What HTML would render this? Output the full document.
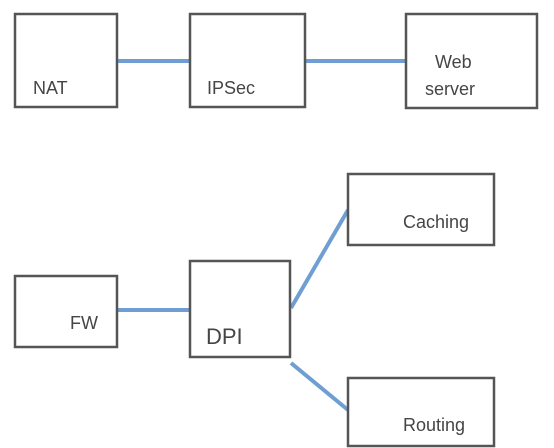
<!DOCTYPE html>
<html><head><meta charset="utf-8"><style>
html,body{margin:0;padding:0;background:#fff;}
svg{display:block}
text{font-family:"Liberation Sans",sans-serif;fill:#454545;font-size:18px;}
</style></head><body>
<svg width="554" height="448" viewBox="0 0 554 448">
<g stroke="#6f9fd2" stroke-width="4" fill="none">
<line x1="117" y1="61" x2="190" y2="61"/>
<line x1="305" y1="61" x2="406" y2="61"/>
<line x1="117" y1="310" x2="190" y2="310"/>
<line x1="291" y1="308" x2="348" y2="210"/>
<line x1="291" y1="363" x2="348" y2="410"/>
</g>
<g stroke="#555" stroke-width="2.5" fill="#fff">
<rect x="15" y="14" width="102" height="93"/>
<rect x="190" y="14" width="115" height="93"/>
<rect x="406" y="14" width="131" height="94"/>
<rect x="348" y="174" width="146" height="71"/>
<rect x="15" y="276" width="102" height="71"/>
<rect x="190" y="261" width="100" height="96"/>
<rect x="348" y="378" width="146" height="68"/>
</g>
<text x="33" y="94">NAT</text>
<text x="207" y="94">IPSec</text>
<text x="435" y="68">Web</text>
<text x="425" y="95">server</text>
<text x="403" y="228">Caching</text>
<text x="70" y="329">FW</text>
<text x="206" y="344" style="font-size:22px">DPI</text>
<text x="403" y="431">Routing</text>
</svg>
</body></html>
